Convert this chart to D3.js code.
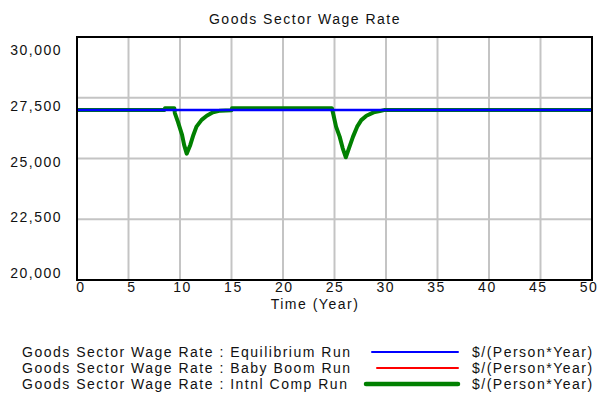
<!DOCTYPE html>
<html>
<head>
<meta charset="utf-8">
<script src="https://cdn.jsdelivr.net/npm/d3@7"></script>
<style>
  html, body { margin: 0; padding: 0; background: #fff; }
  svg text { font-family: "Liberation Sans", Arial, sans-serif; fill: #111; }
</style>
</head>
<body>
<svg id="chart" width="602" height="400"></svg>
<script>
// ---- data ----
const chartTitle = "Goods Sector Wage Rate";
const xAxisTitle = "Time (Year)";
const timeTicks = [0, 5, 10, 15, 20, 25, 30, 35, 40, 45, 50];
const valueTicks = [20000, 22500, 25000, 27500, 30000];

const seriesNames = [
  "Goods Sector Wage Rate : Equilibrium Run",
  "Goods Sector Wage Rate : Baby Boom Run",
  "Goods Sector Wage Rate : Intnl Comp Run"
];
const unitsLabel = "$/(Person*Year)";

const equilibriumTime = [0, 50];
const equilibriumValue = [27000, 27000];

const babyBoomTime = [0, 50];
const babyBoomValue = [27000, 27000];

const intlCompTime = [0, 8.5, 8.55, 9.45, 9.5, 9.8, 10.2, 10.4, 10.65, 11.0, 11.3, 11.6, 12.1, 12.6, 13.2, 13.9, 15.0, 15.05,
  24.75, 24.9, 25.15, 25.5, 25.8, 26.1, 26.4, 26.8, 27.2, 27.6, 28.1, 28.8, 29.4, 29.9, 50];
const intlCompValue = [27000, 27000, 27070, 27070, 26870, 26510, 25970, 25560, 25200, 25560, 25970, 26310, 26590, 26760, 26900, 26970, 26990, 27070,
  27070, 26790, 26310, 25900, 25420, 25050, 25420, 25900, 26310, 26580, 26760, 26900, 26950, 27000, 27000];

// ---- layout ----
(function () {
const svg = d3.select("#chart");
const pL = 77, pR = 592, pT = 37, pB = 280;

const x = d3.scaleLinear().domain([0, 50]).range([pL, pR]);
const y = d3.scaleLinear().domain([20000, 30000]).range([pB, pT]);
// tick labels are inset from the frame edges (Vensim style)
const xLabel = d3.scaleLinear().domain([0, 50]).range([pL + 4, pR - 3]);
const yLabel = d3.scaleLinear().domain([20000, 30000]).range([273, 50]);

const fmt = d3.format(",");

// title
svg.append("text").attr("x", 305).attr("y", 24)
  .attr("text-anchor", "middle").style("font-size", "14px").style("letter-spacing", "1.5px")
  .text(chartTitle);

// gridlines
const grid = svg.append("g");
grid.selectAll("line.v").data(timeTicks.slice(1, -1)).join("line")
  .attr("x1", d => x(d)).attr("x2", d => x(d)).attr("y1", pT).attr("y2", pB)
  .attr("stroke", "#c4c4c4").attr("stroke-width", 2);
grid.selectAll("line.h").data(valueTicks.slice(1, -1)).join("line")
  .attr("x1", pL).attr("x2", pR).attr("y1", d => y(d)).attr("y2", d => y(d))
  .attr("stroke", "#c4c4c4").attr("stroke-width", 2);

// axis labels
svg.append("g").selectAll("text").data(timeTicks).join("text")
  .attr("x", d => xLabel(d)).attr("y", 292)
  .attr("text-anchor", "middle").style("font-size", "14px").style("letter-spacing", "1.5px")
  .text(d => d);
svg.append("g").selectAll("text").data(valueTicks).join("text")
  .attr("x", 62).attr("y", d => yLabel(d) + 5)
  .attr("text-anchor", "end").style("font-size", "14px").style("letter-spacing", "1.5px")
  .text(d => fmt(d));
svg.append("text").attr("x", 315).attr("y", 309)
  .attr("text-anchor", "middle").style("font-size", "14px").style("letter-spacing", "1.5px")
  .text(xAxisTitle);

// lines
const line = d3.line().x(d => x(d[0])).y(d => y(d[1]));
const zip = (a, b) => a.map((t, i) => [t, b[i]]);
const plot = svg.append("g");
plot.append("path").attr("d", line(zip(babyBoomTime, babyBoomValue)))
  .attr("fill", "none").attr("stroke", "#ff0000").attr("stroke-width", 1.5);
plot.append("path").attr("d", line(zip(intlCompTime, intlCompValue)))
  .attr("fill", "none").attr("stroke", "#008000").attr("stroke-width", 4)
  .attr("stroke-linejoin", "round");
plot.append("path").attr("d", line(zip(equilibriumTime, equilibriumValue)))
  .attr("fill", "none").attr("stroke", "#0000ff").attr("stroke-width", 2.5);

// frame
svg.append("rect").attr("x", pL).attr("y", pT).attr("width", pR - pL).attr("height", pB - pT)
  .attr("fill", "none").attr("stroke", "#000").attr("stroke-width", 2);

// legend
const legendColors = ["#0000ff", "#ff0000", "#008000"];
const legendWidths = [2, 2, 4.5];
const legendStart = [372, 377, 366];
const legendY = [352, 368, 384];
const lg = svg.append("g");
seriesNames.forEach((name, i) => {
  lg.append("text").attr("x", 22).attr("y", legendY[i] + 5)
    .style("font-size", "14px").style("letter-spacing", "1.5px").text(name);
  lg.append("line").attr("x1", legendStart[i]).attr("x2", 458)
    .attr("y1", legendY[i]).attr("y2", legendY[i])
    .attr("stroke", legendColors[i]).attr("stroke-width", legendWidths[i]).attr("stroke-linecap", "round");
  lg.append("text").attr("x", 472).attr("y", legendY[i] + 5)
    .style("font-size", "14px").style("letter-spacing", "1.5px").text(unitsLabel);
});
})();
</script>
</body>
</html>
